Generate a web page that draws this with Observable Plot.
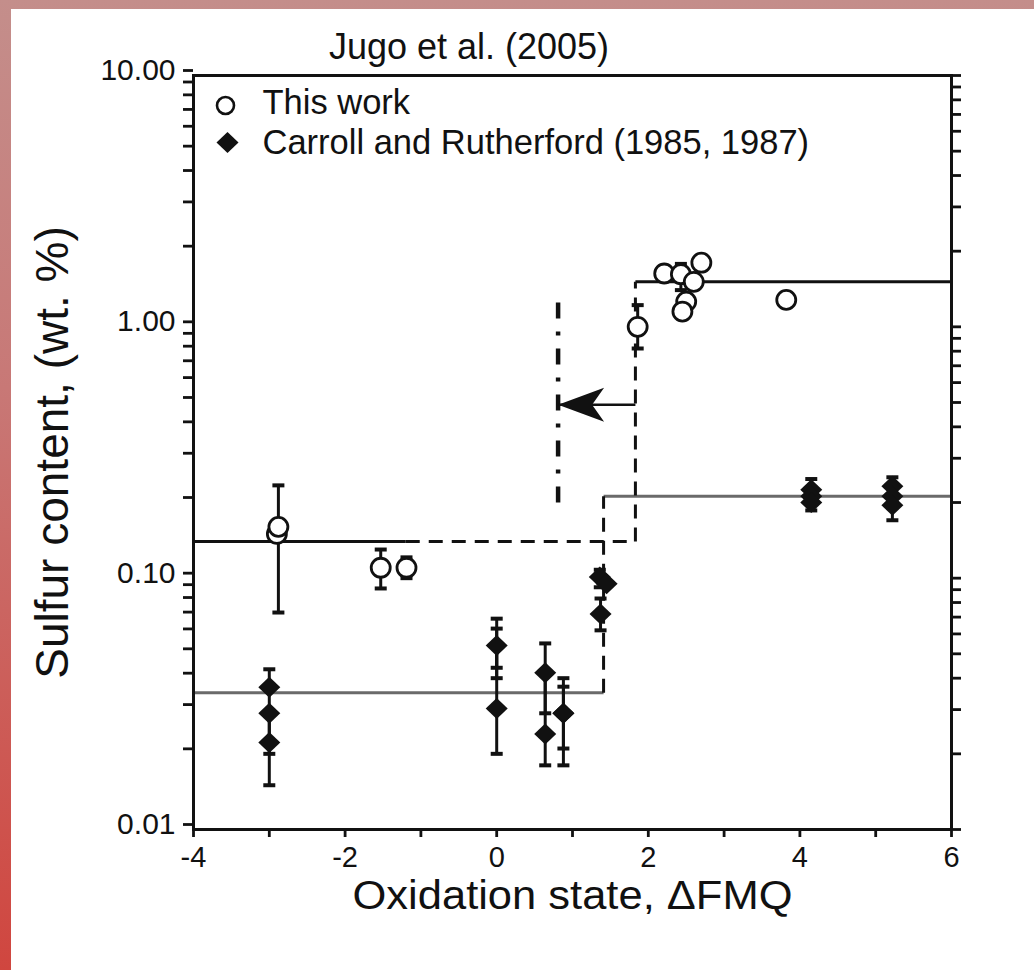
<!DOCTYPE html>
<html>
<head>
<meta charset="utf-8">
<script src="https://cdn.jsdelivr.net/npm/d3@7"></script>
<script src="https://cdn.jsdelivr.net/npm/@observablehq/plot@0.6"></script>
<style>
  html, body { margin: 0; padding: 0; }
  body { width: 1034px; height: 970px; overflow: hidden; position: relative;
         background: linear-gradient(180deg, #c48e8b 0%, #c87876 40%, #d0463f 100%); }
  #sheet { position: absolute; left: 11px; top: 9px; right: 0; bottom: 0; background: #fff; }
  #title { position: absolute; left: 169px; top: 27px; width: 600px; line-height: 40px;
           text-align: center; font-family: "Liberation Sans", Arial, sans-serif; font-size: 36px; color: #111; }
  #chart { position: absolute; left: 0; top: 40px; }
</style>
</head>
<body>
<div id="sheet"></div>
<div id="title"></div>
<div id="chart"></div>
<script>
// ---- data ----
const titleText = "Jugo et al. (2005)";
const xLabel = "Oxidation state, ΔFMQ";
const yLabel = "Sulfur content, (wt. %)";
const legendLabels = ["This work", "Carroll and Rutherford (1985, 1987)"];

const xTicks = [-4, -2, 0, 2, 4, 6];
const xMinorTicks = [-4, -3, -2, -1, 0, 1, 2, 3, 4, 5, 6];
const yTicks = [0.01, 0.1, 1, 10];
const yTickLabels = ["0.01", "0.10", "1.00", "10.00"];

// This work (open circles)
const thisWorkX = [-2.90, -2.88, -1.53, -1.19, 1.86, 2.21, 2.43, 2.60, 2.50, 2.45, 2.70, 3.82];
const thisWorkY = [0.150, 0.160, 0.110, 0.110, 1.00, 1.63, 1.62, 1.51, 1.26, 1.15, 1.80, 1.28];
const thisWorkErrX  = [-2.88, -1.53, -1.19, 1.86, 2.43];
const thisWorkErrLo = [0.073, 0.091, 0.100, 0.82, 1.40];
const thisWorkErrHi = [0.234, 0.130, 0.121, 1.22, 1.78];

// Carroll and Rutherford (filled diamonds)
const carrollX = [-3.0, -3.0, -3.0, 0.0, 0.0, 0.64, 0.64, 0.88, 0.88, 1.36, 1.45, 1.37, 4.15, 4.15, 4.15, 5.22, 5.22, 5.22];
const carrollY = [0.0368, 0.029, 0.0222, 0.054, 0.0303, 0.042, 0.024, 0.029, 0.029, 0.101, 0.095, 0.072, 0.225, 0.212, 0.200, 0.232, 0.212, 0.195];
const carrollErrX  = [-3.0, -3.0, 0.0, 0.0, 0.0, 0.64, 0.64, 0.88, 0.88, 1.37, 1.36, 4.15, 5.22];
const carrollErrLo = [0.020, 0.015, 0.040, 0.020, 0.044, 0.018, 0.029, 0.018, 0.021, 0.062, 0.092, 0.186, 0.170];
const carrollErrHi = [0.0434, 0.029, 0.069, 0.063, 0.054, 0.055, 0.042, 0.040, 0.037, 0.083, 0.108, 0.248, 0.252];

// step fits
const fitThisWorkX = [-4, -1.2, 1.83, 1.83, 6];
const fitThisWorkY = [0.14, 0.14, 0.14, 1.51, 1.51];
const fitThisWorkDashed = [false, true, true, false];
const fitCarrollX = [-4, 1.41, 1.41, 6];
const fitCarrollY = [0.035, 0.035, 0.212, 0.212];
const fitCarrollDashed = [false, true, false];

// limit line and arrow
const limitX = [0.81, 0.81];
const limitY = [0.20, 1.30];
const arrowX = [1.83, 0.81];
const arrowY = [0.49, 0.49];

// ---- build tables ----
const thisWork = thisWorkX.map((x, i) => ({x, y: thisWorkY[i]}));
const carroll = carrollX.map((x, i) => ({x, y: carrollY[i]}));
const thisWorkErr = thisWorkErrX.map((x, i) => ({x, lo: thisWorkErrLo[i], hi: thisWorkErrHi[i]}));
const carrollErr = carrollErrX.map((x, i) => ({x, lo: carrollErrLo[i], hi: carrollErrHi[i]}));
const allErr = carrollErr.concat(thisWorkErr);
function segs(xs, ys, dashed, color) {
  return dashed.map((d, i) => ({x1: xs[i], y1: ys[i], x2: xs[i + 1], y2: ys[i + 1], dashed: d, color}));
}
const fitSegs = segs(fitCarrollX, fitCarrollY, fitCarrollDashed, "#6a6a6a")
  .concat(segs(fitThisWorkX, fitThisWorkY, fitThisWorkDashed, "#111"));
const limitSeg = [{x1: limitX[0], y1: limitY[0], x2: limitX[1], y2: limitY[1]}];
const arrowSeg = [{x1: arrowX[0], y1: arrowY[0], x2: arrowX[1], y2: arrowY[1]}];

const yMinor = d3.range(-2, 1).flatMap(e => d3.range(1, 10).map(m => +(m * Math.pow(10, e)).toPrecision(3))).concat([10]);

// ---- custom symbols ----
const capSym = {draw(ctx) { ctx.moveTo(-6, 0); ctx.lineTo(6, 0); }};
const diamondSym = {draw(ctx) { ctx.moveTo(0, -10.5); ctx.lineTo(11, 0); ctx.lineTo(0, 10.5); ctx.lineTo(-11, 0); ctx.closePath(); }};
const headSym = {draw(ctx) { ctx.moveTo(0, 0); ctx.lineTo(46, -17); ctx.lineTo(34, 0); ctx.lineTo(46, 17); ctx.closePath(); }};

const ink = "#111";
const fmtY = d => { const i = yTicks.findIndex(t => Math.abs(t - d) / t < 1e-6); return i >= 0 ? yTickLabels[i] : ""; };
const fmtX = d => xTicks.includes(d) ? String(d) : "";

const chart = Plot.plot({
  width: 1034, height: 920,
  marginLeft: 193, marginRight: 83, marginTop: 35, marginBottom: 131,
  x: {domain: [-4, 6]},
  y: {type: "log", domain: [0.01, 10]},
  style: {fontFamily: "Liberation Sans, Arial, sans-serif", background: "transparent", color: ink},
  marks: [
    // fits
    Plot.link(fitSegs.filter(d => !d.dashed), {x1: "x1", y1: "y1", x2: "x2", y2: "y2", stroke: d => d.color, strokeWidth: 3}),
    Plot.link(fitSegs.filter(d => d.dashed), {x1: "x1", y1: "y1", x2: "x2", y2: "y2", stroke: ink, strokeWidth: 3, strokeDasharray: "14,9"}),
    Plot.link(limitSeg, {x1: "x1", y1: "y1", x2: "x2", y2: "y2", stroke: ink, strokeWidth: 4.5, strokeDasharray: "16,13,4,13"}),
    Plot.link(arrowSeg, {x1: "x1", y1: "y1", x2: "x2", y2: "y2", stroke: ink, strokeWidth: 2.5}),
    Plot.dot(arrowSeg, {x: "x2", y: "y2", symbol: headSym, r: 10, fill: ink, stroke: "none"}),
    // error bars
    Plot.link(allErr, {x1: "x", x2: "x", y1: "lo", y2: "hi", stroke: ink, strokeWidth: 3}),
    Plot.dot(allErr, {x: "x", y: "lo", symbol: capSym, r: 5, fill: "none", stroke: ink, strokeWidth: 4}),
    Plot.dot(allErr, {x: "x", y: "hi", symbol: capSym, r: 5, fill: "none", stroke: ink, strokeWidth: 4}),
    // points
    Plot.dot(carroll, {x: "x", y: "y", symbol: diamondSym, r: 10, fill: ink, stroke: "none"}),
    Plot.dot(thisWork, {x: "x", y: "y", r: 9.5, fill: "white", stroke: ink, strokeWidth: 2.8}),
    // legend
    Plot.dot([legendLabels[0]], {frameAnchor: "top-left", dx: 32, dy: 30, r: 8.5, fill: "white", stroke: ink, strokeWidth: 2.6}),
    Plot.dot([legendLabels[1]], {frameAnchor: "top-left", dx: 34, dy: 67, symbol: diamondSym, r: 10, fill: ink, stroke: "none"}),
    Plot.text([legendLabels[0]], {frameAnchor: "top-left", dx: 69, dy: 27, text: d => d, textAnchor: "start", lineAnchor: "middle", fontSize: 34.5, fill: ink}),
    Plot.text([legendLabels[1]], {frameAnchor: "top-left", dx: 69, dy: 67, text: d => d, textAnchor: "start", lineAnchor: "middle", fontSize: 34.5, fill: ink}),
    // axes
    Plot.axisX(xMinorTicks, {anchor: "bottom", tickSize: 8, tickPadding: 9, tickFormat: fmtX, fontSize: 29, strokeWidth: 2.8, label: null}),
    Plot.axisY(yMinor, {anchor: "left", tickSize: 10, tickPadding: 8, tickFormat: fmtY, fontSize: 30, dy: -5, strokeWidth: 2.8, label: null}),
    Plot.axisY(yMinor, {anchor: "right", tickSize: 9, tickFormat: () => "", strokeWidth: 2.8, label: null}),
    Plot.frame({stroke: ink, strokeWidth: 3}),
    Plot.text([xLabel], {frameAnchor: "bottom", dy: 66, text: d => d, textAnchor: "middle", lineAnchor: "middle", fontSize: 41, fill: ink, className: "xlab"}),
    Plot.text([yLabel], {frameAnchor: "left", dx: -140, rotate: -90, text: d => d, textAnchor: "middle", lineAnchor: "middle", fontSize: 46, fill: ink})
  ]
});
document.getElementById("title").textContent = titleText;
document.getElementById("chart").appendChild(chart);
d3.select(chart).selectAll(".xlab text").attr("textLength", 440).attr("lengthAdjust", "spacingAndGlyphs");
</script>
</body>
</html>
